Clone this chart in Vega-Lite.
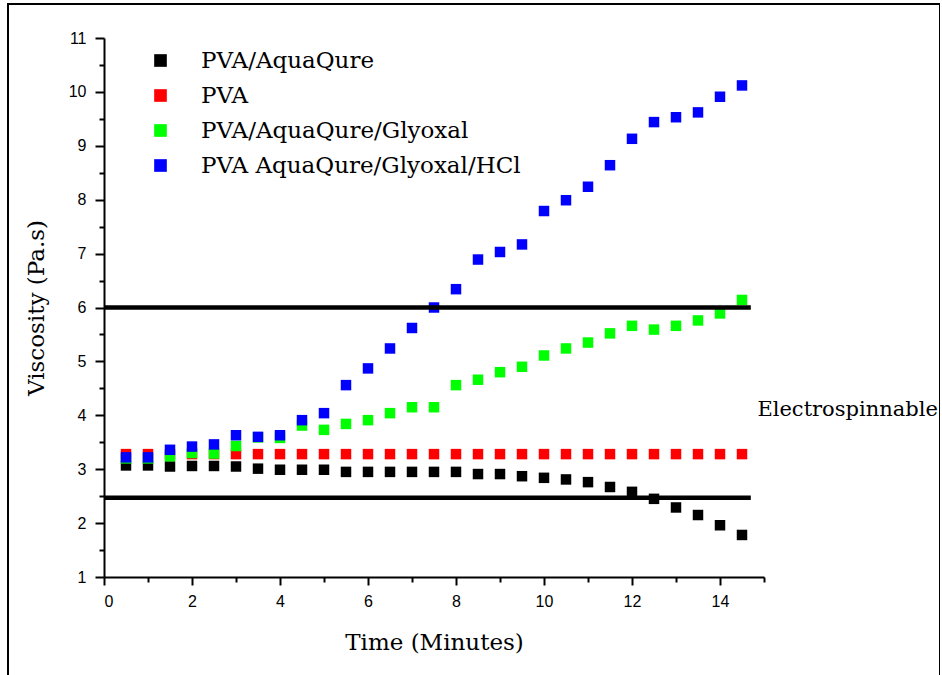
{
  "$schema": "https://vega.github.io/schema/vega-lite/v6.json",
  "width": 932,
  "height": 672,
  "autosize": {"type": "none"},
  "padding": {"left": 8, "top": 4, "right": 0, "bottom": 0},
  "background": "white",
  "config": {
    "view": {"stroke": "black", "strokeWidth": 2},
    "axis": {"grid": false, "domainColor": "black", "tickColor": "black", "labelColor": "black", "titleColor": "black"}
  },
  "datasets": {
    "points": [
      {"series": "PVA/AquaQure", "time": 0.5, "viscosity": 3.07},
      {"series": "PVA/AquaQure", "time": 1.0, "viscosity": 3.07},
      {"series": "PVA/AquaQure", "time": 1.5, "viscosity": 3.05},
      {"series": "PVA/AquaQure", "time": 2.0, "viscosity": 3.06},
      {"series": "PVA/AquaQure", "time": 2.5, "viscosity": 3.06},
      {"series": "PVA/AquaQure", "time": 3.0, "viscosity": 3.05},
      {"series": "PVA/AquaQure", "time": 3.5, "viscosity": 3.01},
      {"series": "PVA/AquaQure", "time": 4.0, "viscosity": 2.99},
      {"series": "PVA/AquaQure", "time": 4.5, "viscosity": 2.99},
      {"series": "PVA/AquaQure", "time": 5.0, "viscosity": 2.99},
      {"series": "PVA/AquaQure", "time": 5.5, "viscosity": 2.95},
      {"series": "PVA/AquaQure", "time": 6.0, "viscosity": 2.95},
      {"series": "PVA/AquaQure", "time": 6.5, "viscosity": 2.95},
      {"series": "PVA/AquaQure", "time": 7.0, "viscosity": 2.95},
      {"series": "PVA/AquaQure", "time": 7.5, "viscosity": 2.95},
      {"series": "PVA/AquaQure", "time": 8.0, "viscosity": 2.95},
      {"series": "PVA/AquaQure", "time": 8.5, "viscosity": 2.91},
      {"series": "PVA/AquaQure", "time": 9.0, "viscosity": 2.91},
      {"series": "PVA/AquaQure", "time": 9.5, "viscosity": 2.87},
      {"series": "PVA/AquaQure", "time": 10.0, "viscosity": 2.84},
      {"series": "PVA/AquaQure", "time": 10.5, "viscosity": 2.81},
      {"series": "PVA/AquaQure", "time": 11.0, "viscosity": 2.76},
      {"series": "PVA/AquaQure", "time": 11.5, "viscosity": 2.67},
      {"series": "PVA/AquaQure", "time": 12.0, "viscosity": 2.58},
      {"series": "PVA/AquaQure", "time": 12.5, "viscosity": 2.45},
      {"series": "PVA/AquaQure", "time": 13.0, "viscosity": 2.29},
      {"series": "PVA/AquaQure", "time": 13.5, "viscosity": 2.15},
      {"series": "PVA/AquaQure", "time": 14.0, "viscosity": 1.96},
      {"series": "PVA/AquaQure", "time": 14.5, "viscosity": 1.78},
      {"series": "PVA", "time": 0.5, "viscosity": 3.28},
      {"series": "PVA", "time": 1.0, "viscosity": 3.28},
      {"series": "PVA", "time": 1.5, "viscosity": 3.28},
      {"series": "PVA", "time": 2.0, "viscosity": 3.28},
      {"series": "PVA", "time": 2.5, "viscosity": 3.28},
      {"series": "PVA", "time": 3.0, "viscosity": 3.28},
      {"series": "PVA", "time": 3.5, "viscosity": 3.28},
      {"series": "PVA", "time": 4.0, "viscosity": 3.28},
      {"series": "PVA", "time": 4.5, "viscosity": 3.28},
      {"series": "PVA", "time": 5.0, "viscosity": 3.28},
      {"series": "PVA", "time": 5.5, "viscosity": 3.28},
      {"series": "PVA", "time": 6.0, "viscosity": 3.28},
      {"series": "PVA", "time": 6.5, "viscosity": 3.28},
      {"series": "PVA", "time": 7.0, "viscosity": 3.28},
      {"series": "PVA", "time": 7.5, "viscosity": 3.28},
      {"series": "PVA", "time": 8.0, "viscosity": 3.28},
      {"series": "PVA", "time": 8.5, "viscosity": 3.28},
      {"series": "PVA", "time": 9.0, "viscosity": 3.28},
      {"series": "PVA", "time": 9.5, "viscosity": 3.28},
      {"series": "PVA", "time": 10.0, "viscosity": 3.28},
      {"series": "PVA", "time": 10.5, "viscosity": 3.28},
      {"series": "PVA", "time": 11.0, "viscosity": 3.28},
      {"series": "PVA", "time": 11.5, "viscosity": 3.28},
      {"series": "PVA", "time": 12.0, "viscosity": 3.28},
      {"series": "PVA", "time": 12.5, "viscosity": 3.28},
      {"series": "PVA", "time": 13.0, "viscosity": 3.28},
      {"series": "PVA", "time": 13.5, "viscosity": 3.28},
      {"series": "PVA", "time": 14.0, "viscosity": 3.28},
      {"series": "PVA", "time": 14.5, "viscosity": 3.28},
      {"series": "PVA/AquaQure/Glyoxal", "time": 0.5, "viscosity": 3.2},
      {"series": "PVA/AquaQure/Glyoxal", "time": 1.0, "viscosity": 3.2},
      {"series": "PVA/AquaQure/Glyoxal", "time": 1.5, "viscosity": 3.24},
      {"series": "PVA/AquaQure/Glyoxal", "time": 2.0, "viscosity": 3.30},
      {"series": "PVA/AquaQure/Glyoxal", "time": 2.5, "viscosity": 3.29},
      {"series": "PVA/AquaQure/Glyoxal", "time": 3.0, "viscosity": 3.43},
      {"series": "PVA/AquaQure/Glyoxal", "time": 3.5, "viscosity": 3.59},
      {"series": "PVA/AquaQure/Glyoxal", "time": 4.0, "viscosity": 3.58},
      {"series": "PVA/AquaQure/Glyoxal", "time": 4.5, "viscosity": 3.81},
      {"series": "PVA/AquaQure/Glyoxal", "time": 5.0, "viscosity": 3.73},
      {"series": "PVA/AquaQure/Glyoxal", "time": 5.5, "viscosity": 3.84},
      {"series": "PVA/AquaQure/Glyoxal", "time": 6.0, "viscosity": 3.91},
      {"series": "PVA/AquaQure/Glyoxal", "time": 6.5, "viscosity": 4.04},
      {"series": "PVA/AquaQure/Glyoxal", "time": 7.0, "viscosity": 4.15},
      {"series": "PVA/AquaQure/Glyoxal", "time": 7.5, "viscosity": 4.15},
      {"series": "PVA/AquaQure/Glyoxal", "time": 8.0, "viscosity": 4.56},
      {"series": "PVA/AquaQure/Glyoxal", "time": 8.5, "viscosity": 4.66},
      {"series": "PVA/AquaQure/Glyoxal", "time": 9.0, "viscosity": 4.80},
      {"series": "PVA/AquaQure/Glyoxal", "time": 9.5, "viscosity": 4.90},
      {"series": "PVA/AquaQure/Glyoxal", "time": 10.0, "viscosity": 5.11},
      {"series": "PVA/AquaQure/Glyoxal", "time": 10.5, "viscosity": 5.24},
      {"series": "PVA/AquaQure/Glyoxal", "time": 11.0, "viscosity": 5.35},
      {"series": "PVA/AquaQure/Glyoxal", "time": 11.5, "viscosity": 5.52},
      {"series": "PVA/AquaQure/Glyoxal", "time": 12.0, "viscosity": 5.66},
      {"series": "PVA/AquaQure/Glyoxal", "time": 12.5, "viscosity": 5.59},
      {"series": "PVA/AquaQure/Glyoxal", "time": 13.0, "viscosity": 5.66},
      {"series": "PVA/AquaQure/Glyoxal", "time": 13.5, "viscosity": 5.76},
      {"series": "PVA/AquaQure/Glyoxal", "time": 14.0, "viscosity": 5.89},
      {"series": "PVA/AquaQure/Glyoxal", "time": 14.5, "viscosity": 6.14},
      {"series": "PVA AquaQure/Glyoxal/HCl", "time": 0.5, "viscosity": 3.22},
      {"series": "PVA AquaQure/Glyoxal/HCl", "time": 1.0, "viscosity": 3.22},
      {"series": "PVA AquaQure/Glyoxal/HCl", "time": 1.5, "viscosity": 3.36},
      {"series": "PVA AquaQure/Glyoxal/HCl", "time": 2.0, "viscosity": 3.42},
      {"series": "PVA AquaQure/Glyoxal/HCl", "time": 2.5, "viscosity": 3.46},
      {"series": "PVA AquaQure/Glyoxal/HCl", "time": 3.0, "viscosity": 3.63},
      {"series": "PVA AquaQure/Glyoxal/HCl", "time": 3.5, "viscosity": 3.60},
      {"series": "PVA AquaQure/Glyoxal/HCl", "time": 4.0, "viscosity": 3.63},
      {"series": "PVA AquaQure/Glyoxal/HCl", "time": 4.5, "viscosity": 3.91},
      {"series": "PVA AquaQure/Glyoxal/HCl", "time": 5.0, "viscosity": 4.04},
      {"series": "PVA AquaQure/Glyoxal/HCl", "time": 5.5, "viscosity": 4.56},
      {"series": "PVA AquaQure/Glyoxal/HCl", "time": 6.0, "viscosity": 4.87},
      {"series": "PVA AquaQure/Glyoxal/HCl", "time": 6.5, "viscosity": 5.24},
      {"series": "PVA AquaQure/Glyoxal/HCl", "time": 7.0, "viscosity": 5.62},
      {"series": "PVA AquaQure/Glyoxal/HCl", "time": 7.5, "viscosity": 6.00},
      {"series": "PVA AquaQure/Glyoxal/HCl", "time": 8.0, "viscosity": 6.34},
      {"series": "PVA AquaQure/Glyoxal/HCl", "time": 8.5, "viscosity": 6.89},
      {"series": "PVA AquaQure/Glyoxal/HCl", "time": 9.0, "viscosity": 7.03},
      {"series": "PVA AquaQure/Glyoxal/HCl", "time": 9.5, "viscosity": 7.17},
      {"series": "PVA AquaQure/Glyoxal/HCl", "time": 10.0, "viscosity": 7.79},
      {"series": "PVA AquaQure/Glyoxal/HCl", "time": 10.5, "viscosity": 7.99},
      {"series": "PVA AquaQure/Glyoxal/HCl", "time": 11.0, "viscosity": 8.24},
      {"series": "PVA AquaQure/Glyoxal/HCl", "time": 11.5, "viscosity": 8.64},
      {"series": "PVA AquaQure/Glyoxal/HCl", "time": 12.0, "viscosity": 9.13},
      {"series": "PVA AquaQure/Glyoxal/HCl", "time": 12.5, "viscosity": 9.44},
      {"series": "PVA AquaQure/Glyoxal/HCl", "time": 13.0, "viscosity": 9.53},
      {"series": "PVA AquaQure/Glyoxal/HCl", "time": 13.5, "viscosity": 9.62},
      {"series": "PVA AquaQure/Glyoxal/HCl", "time": 14.0, "viscosity": 9.91},
      {"series": "PVA AquaQure/Glyoxal/HCl", "time": 14.5, "viscosity": 10.12}
    ],
    "limits": [
      {"start": 0, "end": 14.7, "level": 6.0},
      {"start": 0, "end": 14.7, "level": 2.47}
    ],
    "notes": [
      {"x": 14.85, "y": 4.1, "label": "Electrospinnable"}
    ]
  },
  "layer": [
    {
      "data": {"name": "points"},
      "mark": {"type": "point", "shape": "square", "filled": true, "opacity": 1, "size": 110, "strokeWidth": 0},
      "encoding": {
        "x": {
          "field": "time", "type": "quantitative",
          "scale": {"domain": [0, 15], "range": [96, 756], "nice": false, "zero": false},
          "axis": {
            "orient": "bottom", "offset": -99, "values": [0, 2, 4, 6, 8, 10, 12, 14],
            "tickSize": 8, "tickWidth": 2, "domainWidth": 2,
            "labelFont": "Liberation Sans", "labelFontSize": 16, "labelPadding": 8,
            "title": "Time (Minutes)", "titleFont": "DejaVu Serif", "titleFontSize": 23,
            "titleFontWeight": "normal", "titlePadding": 22
          }
        },
        "y": {
          "field": "viscosity", "type": "quantitative",
          "scale": {"domain": [1, 11], "range": [573, 34], "nice": false, "zero": false},
          "axis": {
            "orient": "left", "offset": -96, "values": [1, 2, 3, 4, 5, 6, 7, 8, 9, 10, 11],
            "tickSize": 9, "tickWidth": 2, "domainWidth": 2,
            "labelFont": "Liberation Sans", "labelFontSize": 16, "labelPadding": 9,
            "title": "Viscosity (Pa.s)", "titleFont": "DejaVu Serif", "titleFontSize": 23,
            "titleFontWeight": "normal", "titlePadding": 20
          }
        },
        "color": {
          "field": "series", "type": "nominal",
          "scale": {
            "domain": ["PVA/AquaQure", "PVA", "PVA/AquaQure/Glyoxal", "PVA AquaQure/Glyoxal/HCl"],
            "range": ["#000000", "#ff0000", "#00ff00", "#0000ff"]
          },
          "legend": {
            "orient": "none", "legendX": 141, "legendY": 45, "title": null, "padding": 0,
            "symbolType": "square", "symbolSize": 160, "symbolStrokeWidth": 0, "symbolOpacity": 1,
            "labelFont": "DejaVu Serif", "labelFontSize": 23, "labelColor": "black",
            "labelOffset": 29, "rowPadding": 11, "labelLimit": 600
          }
        }
      }
    },
    {
      "data": {"name": "limits"},
      "mark": {"type": "rule", "color": "black", "strokeWidth": 4.5},
      "encoding": {
        "x": {
          "field": "start", "type": "quantitative",
          "axis": {
            "orient": "bottom", "offset": -99, "values": [1, 3, 5, 7, 9, 11, 13, 15],
            "tickSize": 5, "tickWidth": 2, "domain": false, "labels": false, "title": null
          }
        },
        "x2": {"field": "end"},
        "y": {
          "field": "level", "type": "quantitative",
          "axis": {
            "orient": "left", "offset": -96,
            "values": [1.5, 2.5, 3.5, 4.5, 5.5, 6.5, 7.5, 8.5, 9.5, 10.5],
            "tickSize": 5, "tickWidth": 2, "domain": false, "labels": false, "title": null
          }
        }
      }
    },
    {
      "data": {"name": "notes"},
      "mark": {"type": "text", "font": "DejaVu Serif", "fontSize": 21, "align": "left", "baseline": "middle", "color": "black"},
      "encoding": {
        "x": {"field": "x", "type": "quantitative", "axis": null},
        "y": {"field": "y", "type": "quantitative", "axis": null},
        "text": {"field": "label"}
      }
    }
  ],
  "resolve": {"axis": {"x": "independent", "y": "independent"}}
}
